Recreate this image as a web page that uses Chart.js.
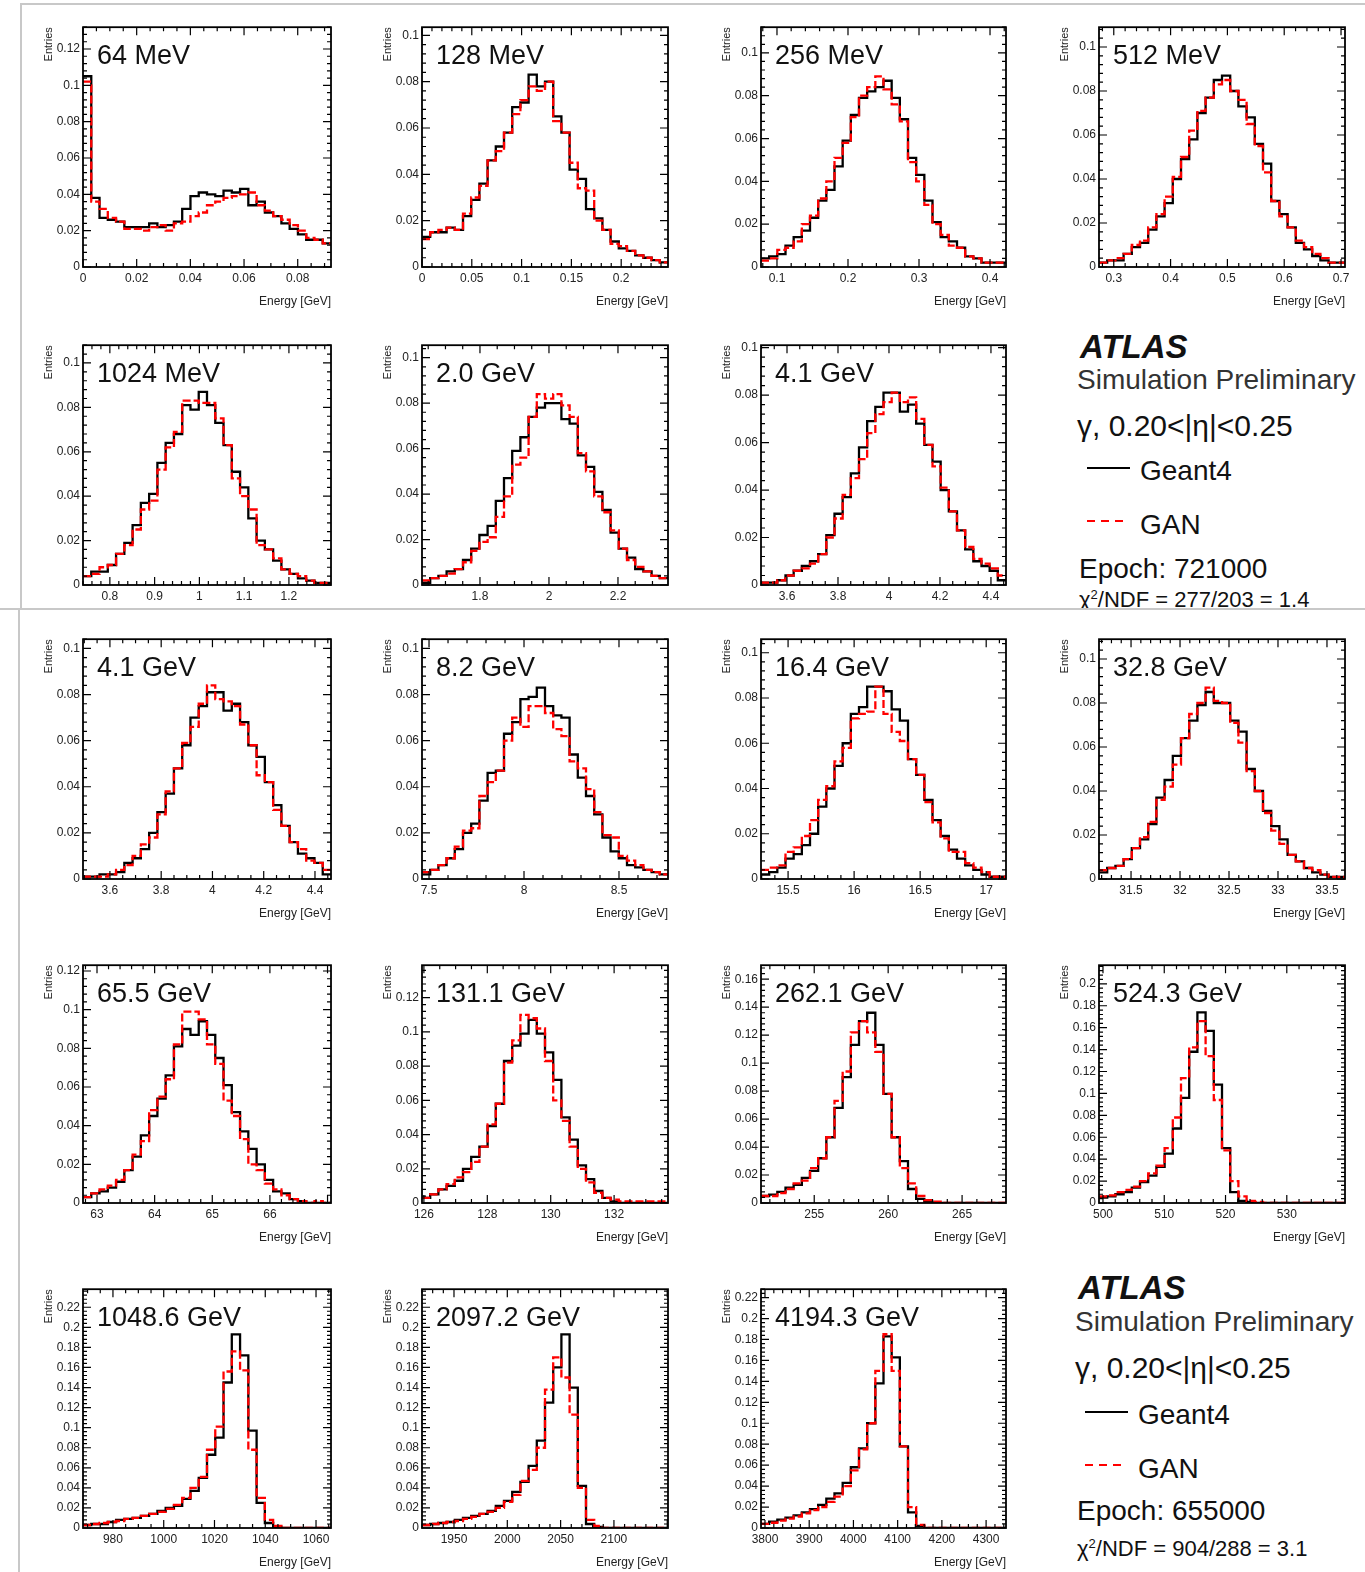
<!DOCTYPE html>
<html>
<head>
<meta charset="utf-8">
<script src="https://cdn.jsdelivr.net/npm/chart.js@4.4.1/dist/chart.umd.min.js"></script>
<style>
html,body{margin:0;padding:0;background:#fff;}
body{width:1365px;height:1572px;position:relative;overflow:hidden;font-family:"Liberation Sans",Arial,Helvetica,sans-serif;}
.half{position:absolute;left:0;width:1365px;overflow:hidden;}
.half canvas{position:absolute;}
.t{position:absolute;white-space:nowrap;line-height:1;color:#111;}
.gl{position:absolute;background:#c8c8c8;}
.ln{position:absolute;height:2px;background:#000;}
.dl{position:absolute;height:2px;background:repeating-linear-gradient(90deg,#f00 0 8px,transparent 8px 14px);}
</style>
</head>
<body>
<div class="gl" style="left:20px;top:3px;width:1345px;height:2px"></div>
<div class="gl" style="left:20px;top:3px;width:2px;height:606px"></div>
<div class="gl" style="left:0;top:608px;width:1365px;height:2px"></div>
<div class="gl" style="left:18px;top:610px;width:2px;height:962px"></div>

<div id="topHalf" class="half" style="top:0;height:608px">
  <div class="t" style="left:1080px;top:330px;font-size:33px;font-weight:bold;font-style:italic;">ATLAS</div>
  <div class="t" style="left:1077px;top:366px;font-size:28px;color:#333;">Simulation Preliminary</div>
  <div class="t" style="left:1077px;top:411px;font-size:30px;">γ, 0.20&lt;|η|&lt;0.25</div>
  <div class="ln" style="left:1087px;top:467px;width:43px"></div>
  <div class="t" style="left:1140px;top:457px;font-size:28px;">Geant4</div>
  <div class="dl" style="left:1087px;top:520px;width:40px"></div>
  <div class="t" style="left:1140px;top:511px;font-size:28px;">GAN</div>
  <div class="t" style="left:1079px;top:555px;font-size:28px;">Epoch: 721000</div>
  <div class="t" style="left:1079px;top:588px;font-size:22px;">χ<sup style="font-size:13px">2</sup>/NDF = 277/203 = 1.4</div>
</div>
<div id="botHalf" class="half" style="top:610px;height:962px">
  <div class="t" style="left:1078px;top:661px;font-size:33px;font-weight:bold;font-style:italic;">ATLAS</div>
  <div class="t" style="left:1075px;top:698px;font-size:28px;color:#333;">Simulation Preliminary</div>
  <div class="t" style="left:1075px;top:743px;font-size:30px;">γ, 0.20&lt;|η|&lt;0.25</div>
  <div class="ln" style="left:1085px;top:801px;width:43px"></div>
  <div class="t" style="left:1138px;top:791px;font-size:28px;">Geant4</div>
  <div class="dl" style="left:1085px;top:854px;width:40px"></div>
  <div class="t" style="left:1138px;top:845px;font-size:28px;">GAN</div>
  <div class="t" style="left:1077px;top:887px;font-size:28px;">Epoch: 655000</div>
  <div class="t" style="left:1077px;top:927px;font-size:22px;">χ<sup style="font-size:13px">2</sup>/NDF = 904/288 = 3.1</div>
</div>

<script>
// ---------------- DATA ----------------
const panelLabels = ['64 MeV','128 MeV','256 MeV','512 MeV','1024 MeV','2.0 GeV','4.1 GeV',
  '4.1 GeV','8.2 GeV','16.4 GeV','32.8 GeV','65.5 GeV','131.1 GeV','262.1 GeV','524.3 GeV',
  '1048.6 GeV','2097.2 GeV','4194.3 GeV'];
const xMin = [0, 0, 0.0775, 0.274, 0.74, 1.632, 3.498, 3.495, 7.463, 15.295, 31.173, 62.757, 125.94, 251.4, 499.35, 968.2, 1920.0, 3791];
const xMax = [0.0924, 0.247, 0.4225, 0.707, 1.294, 2.345, 4.459, 4.4625, 8.758, 17.15, 33.684, 67.06, 133.7, 267.97, 539.5, 1065.9, 2150.7, 4345];
const yMax = [0.132, 0.1035, 0.112, 0.109, 0.108, 0.1055, 0.101, 0.104, 0.104, 0.106, 0.109, 0.123, 0.139, 0.170, 0.217, 0.238, 0.238, 0.228];
const xTickVals = [
  [0, 0.02, 0.04, 0.06, 0.08],
  [0, 0.05, 0.1, 0.15, 0.2],
  [0.1, 0.2, 0.3, 0.4],
  [0.3, 0.4, 0.5, 0.6, 0.7],
  [0.8, 0.9, 1, 1.1, 1.2],
  [1.8, 2, 2.2],
  [3.6, 3.8, 4, 4.2, 4.4],
  [3.6, 3.8, 4, 4.2, 4.4],
  [7.5, 8, 8.5],
  [15.5, 16, 16.5, 17],
  [31.5, 32, 32.5, 33, 33.5],
  [63, 64, 65, 66],
  [126, 128, 130, 132],
  [255, 260, 265],
  [500, 510, 520, 530],
  [980, 1000, 1020, 1040, 1060],
  [1950, 2000, 2050, 2100],
  [3800, 3900, 4000, 4100, 4200, 4300]
];

const g4_64MeV  = [0.105,0.038,0.027,0.026,0.025,0.022,0.022,0.022,0.024,0.022,0.023,0.025,0.032,0.039,0.041,0.040,0.039,0.042,0.041,0.043,0.034,0.036,0.030,0.028,0.024,0.021,0.018,0.015,0.015,0.013];
const gan_64MeV = [0.102,0.036,0.032,0.027,0.025,0.021,0.021,0.020,0.022,0.023,0.020,0.024,0.025,0.028,0.030,0.034,0.036,0.038,0.039,0.040,0.041,0.034,0.031,0.028,0.026,0.023,0.020,0.016,0.015,0.013];
const g4_128MeV  = [0.013,0.015,0.015,0.017,0.016,0.022,0.029,0.036,0.046,0.052,0.058,0.069,0.071,0.083,0.078,0.080,0.065,0.058,0.042,0.038,0.025,0.021,0.016,0.011,0.008,0.007,0.005,0.004,0.003,0.002];
const gan_128MeV = [0.012,0.015,0.016,0.017,0.016,0.023,0.030,0.035,0.046,0.050,0.058,0.066,0.072,0.078,0.076,0.080,0.063,0.058,0.045,0.034,0.033,0.020,0.016,0.010,0.009,0.007,0.005,0.004,0.003,0.002];
const g4_256MeV  = [0.004,0.005,0.006,0.010,0.014,0.017,0.023,0.031,0.036,0.047,0.059,0.071,0.079,0.082,0.084,0.087,0.079,0.069,0.051,0.043,0.031,0.021,0.014,0.012,0.009,0.005,0.004,0.002,0.002,0.002];
const gan_256MeV = [0.003,0.004,0.008,0.009,0.012,0.020,0.024,0.032,0.040,0.051,0.058,0.070,0.080,0.084,0.089,0.083,0.076,0.068,0.049,0.040,0.029,0.020,0.015,0.010,0.009,0.005,0.004,0.002,0.002,0.002];
const g4_512MeV  = [0.002,0.003,0.003,0.006,0.009,0.011,0.017,0.023,0.029,0.040,0.049,0.058,0.070,0.077,0.085,0.087,0.080,0.073,0.068,0.056,0.047,0.030,0.024,0.018,0.011,0.008,0.005,0.003,0.002,0.002];
const gan_512MeV = [0.002,0.003,0.004,0.006,0.010,0.012,0.018,0.024,0.032,0.041,0.050,0.062,0.071,0.077,0.083,0.085,0.080,0.076,0.065,0.055,0.043,0.030,0.023,0.018,0.012,0.009,0.006,0.004,0.002,0.002];
const g4_1024MeV  = [0.004,0.006,0.006,0.009,0.014,0.019,0.027,0.037,0.041,0.055,0.064,0.068,0.081,0.079,0.087,0.081,0.073,0.063,0.051,0.044,0.030,0.020,0.016,0.011,0.007,0.005,0.003,0.002,0.001,0.001];
const gan_1024MeV = [0.004,0.005,0.008,0.009,0.014,0.018,0.025,0.034,0.038,0.052,0.062,0.069,0.083,0.083,0.082,0.082,0.075,0.063,0.048,0.040,0.034,0.018,0.016,0.012,0.007,0.005,0.004,0.002,0.001,0.001];
const g4_2GeV  = [0.001,0.003,0.004,0.006,0.007,0.011,0.016,0.022,0.026,0.037,0.047,0.059,0.065,0.074,0.078,0.080,0.080,0.073,0.071,0.057,0.052,0.041,0.033,0.023,0.016,0.012,0.007,0.006,0.004,0.003];
const gan_2GeV = [0.002,0.003,0.004,0.005,0.007,0.010,0.015,0.019,0.021,0.030,0.039,0.053,0.056,0.074,0.084,0.082,0.084,0.079,0.074,0.058,0.050,0.039,0.032,0.024,0.016,0.011,0.008,0.006,0.004,0.003];
const g4_4GeVa  = [0.001,0.001,0.002,0.004,0.006,0.008,0.010,0.013,0.021,0.030,0.037,0.047,0.058,0.069,0.075,0.081,0.081,0.073,0.076,0.068,0.059,0.052,0.040,0.031,0.023,0.015,0.010,0.008,0.006,0.002];
const gan_4GeVa = [0.001,0.001,0.002,0.004,0.006,0.007,0.009,0.013,0.020,0.028,0.038,0.045,0.053,0.064,0.072,0.077,0.081,0.077,0.079,0.070,0.059,0.050,0.041,0.031,0.023,0.016,0.011,0.009,0.007,0.004];
const g4_4GeVb  = [0.001,0.001,0.002,0.002,0.003,0.007,0.009,0.013,0.020,0.029,0.037,0.048,0.058,0.070,0.075,0.081,0.081,0.073,0.076,0.068,0.058,0.053,0.042,0.032,0.023,0.016,0.011,0.009,0.007,0.002];
const gan_4GeVb = [0.001,0.001,0.001,0.002,0.004,0.006,0.010,0.015,0.018,0.028,0.038,0.048,0.059,0.066,0.076,0.084,0.078,0.077,0.075,0.067,0.058,0.045,0.042,0.030,0.023,0.016,0.013,0.008,0.007,0.004];
const g4_8GeV  = [0.002,0.004,0.006,0.009,0.013,0.020,0.024,0.034,0.046,0.047,0.063,0.068,0.078,0.079,0.083,0.075,0.071,0.070,0.054,0.044,0.036,0.028,0.018,0.012,0.009,0.006,0.005,0.004,0.003,0.002];
const gan_8GeV = [0.003,0.004,0.006,0.009,0.014,0.021,0.022,0.036,0.042,0.047,0.060,0.070,0.066,0.075,0.075,0.072,0.065,0.062,0.051,0.048,0.039,0.029,0.019,0.018,0.010,0.008,0.006,0.004,0.003,0.002];
const g4_16GeV  = [0.002,0.003,0.005,0.009,0.011,0.015,0.020,0.032,0.040,0.050,0.060,0.073,0.076,0.085,0.085,0.083,0.075,0.070,0.053,0.046,0.035,0.026,0.019,0.013,0.009,0.006,0.004,0.002,0.001,0.001];
const gan_16GeV = [0.004,0.005,0.006,0.012,0.014,0.019,0.026,0.035,0.041,0.052,0.058,0.071,0.073,0.074,0.085,0.073,0.065,0.061,0.053,0.046,0.034,0.025,0.018,0.012,0.012,0.007,0.005,0.003,0.001,0.001];
const g4_32GeV  = [0.003,0.005,0.006,0.009,0.014,0.018,0.025,0.037,0.045,0.056,0.064,0.072,0.079,0.085,0.080,0.080,0.072,0.067,0.050,0.040,0.031,0.024,0.018,0.011,0.008,0.005,0.003,0.002,0.001,0.001];
const gan_32GeV = [0.004,0.005,0.006,0.009,0.014,0.019,0.026,0.036,0.042,0.052,0.064,0.075,0.080,0.087,0.081,0.080,0.071,0.062,0.049,0.040,0.030,0.022,0.016,0.011,0.008,0.005,0.004,0.002,0.001,0.001];
const g4_65GeV  = [0.003,0.005,0.006,0.008,0.011,0.017,0.024,0.035,0.045,0.054,0.066,0.081,0.090,0.087,0.094,0.087,0.075,0.061,0.047,0.037,0.028,0.020,0.012,0.006,0.005,0.002,0.001,0,0,0];
const gan_65GeV = [0.003,0.005,0.007,0.009,0.012,0.017,0.025,0.032,0.048,0.055,0.064,0.082,0.099,0.099,0.095,0.082,0.072,0.053,0.045,0.033,0.020,0.017,0.010,0.007,0.004,0.002,0.001,0,0.001,0];
const g4_131GeV  = [0.003,0.005,0.008,0.010,0.013,0.020,0.027,0.033,0.045,0.058,0.083,0.092,0.099,0.107,0.099,0.088,0.072,0.050,0.037,0.022,0.014,0.007,0.003,0.001,0,0,0,0,0,0];
const gan_131GeV = [0.003,0.005,0.008,0.011,0.015,0.018,0.024,0.033,0.046,0.058,0.082,0.095,0.110,0.108,0.102,0.083,0.060,0.048,0.033,0.020,0.012,0.006,0.003,0.002,0.001,0.001,0.001,0.001,0.001,0.001];
const g4_262GeV  = [0.005,0.006,0.008,0.011,0.013,0.018,0.023,0.032,0.047,0.068,0.090,0.113,0.130,0.136,0.113,0.078,0.047,0.030,0.010,0.003,0.001,0,0,0,0,0,0,0,0,0];
const gan_262GeV = [0.005,0.005,0.007,0.010,0.014,0.016,0.025,0.032,0.047,0.073,0.094,0.122,0.130,0.122,0.108,0.078,0.047,0.025,0.014,0.005,0.002,0.001,0,0,0,0,0,0,0,0];
const g4_524GeV  = [0.005,0.006,0.008,0.010,0.014,0.019,0.025,0.033,0.045,0.068,0.096,0.138,0.174,0.157,0.108,0.050,0.010,0.002,0.001,0,0,0,0,0,0,0,0,0,0,0];
const gan_524GeV = [0.006,0.007,0.010,0.012,0.015,0.020,0.027,0.034,0.050,0.078,0.114,0.142,0.166,0.134,0.094,0.048,0.020,0.006,0.002,0.001,0,0,0,0,0,0,0,0,0,0];
const g4_1048GeV  = [0.003,0.004,0.004,0.006,0.008,0.009,0.010,0.012,0.014,0.017,0.020,0.022,0.029,0.037,0.050,0.073,0.090,0.145,0.193,0.172,0.097,0.025,0.005,0.001,0,0,0,0,0,0];
const gan_1048GeV = [0.003,0.004,0.005,0.006,0.007,0.009,0.010,0.012,0.014,0.016,0.019,0.023,0.030,0.040,0.051,0.078,0.101,0.156,0.176,0.157,0.078,0.030,0.008,0.002,0,0,0,0,0,0];
const g4_2097GeV  = [0.003,0.004,0.005,0.006,0.008,0.010,0.012,0.014,0.017,0.022,0.027,0.036,0.046,0.062,0.087,0.125,0.160,0.193,0.140,0.042,0.004,0.001,0,0,0,0,0,0,0,0];
const gan_2097GeV = [0.003,0.004,0.005,0.006,0.007,0.009,0.011,0.014,0.016,0.020,0.026,0.033,0.047,0.058,0.080,0.138,0.170,0.150,0.113,0.040,0.008,0.002,0,0,0,0,0,0,0,0];
const g4_4194GeV  = [0.004,0.006,0.008,0.010,0.012,0.015,0.018,0.022,0.028,0.033,0.043,0.058,0.076,0.100,0.138,0.183,0.163,0.078,0.015,0.002,0,0,0,0,0,0,0,0,0,0];
const gan_4194GeV = [0.004,0.005,0.007,0.009,0.011,0.014,0.017,0.020,0.025,0.030,0.040,0.055,0.075,0.100,0.150,0.185,0.150,0.078,0.020,0.003,0,0,0,0,0,0,0,0,0,0];

const g4Series  = [g4_64MeV, g4_128MeV, g4_256MeV, g4_512MeV, g4_1024MeV, g4_2GeV, g4_4GeVa, g4_4GeVb, g4_8GeV, g4_16GeV, g4_32GeV, g4_65GeV, g4_131GeV, g4_262GeV, g4_524GeV, g4_1048GeV, g4_2097GeV, g4_4194GeV];
const ganSeries = [gan_64MeV, gan_128MeV, gan_256MeV, gan_512MeV, gan_1024MeV, gan_2GeV, gan_4GeVa, gan_4GeVb, gan_8GeV, gan_16GeV, gan_32GeV, gan_65GeV, gan_131GeV, gan_262GeV, gan_524GeV, gan_1048GeV, gan_2097GeV, gan_4194GeV];

// ---------------- LAYOUT ----------------
const panelRow = [0,0,0,0,1,1,1,2,2,2,2,3,3,3,3,4,4,4];
const panelCol = [0,1,2,3,0,1,2,0,1,2,3,0,1,2,3,0,1,2];
const colLeft  = [83, 422, 761, 1099];
const colWidth = [248, 246, 245, 246];
const rowTop    = [25, 343, 637, 963, 1287];
const rowHeight = [242, 242, 242, 240, 241];
const YW = 45, PT = 8, PR = 20, XH = 44;
const FONT = '"Liberation Sans", Arial, Helvetica, sans-serif';

function fmt(v) { return String(parseFloat(Number(v).toFixed(6))); }

function histPoints(vals, lo, hi) {
  const w = (hi - lo) / vals.length;
  const pts = vals.map((v, i) => ({x: lo + i * w, y: v}));
  pts.push({x: hi, y: vals[vals.length - 1]});
  return pts;
}

function drawScaleTicks(ctx, a, scale, horizontal, majors, sub) {
  if (majors.length < 2) return;
  const step = majors[1] - majors[0];
  const ms = step / sub;
  const start = majors[0] - Math.floor((majors[0] - scale.min) / ms + 1e-9) * ms;
  ctx.beginPath();
  for (let k = 0; ; k++) {
    const v = start + k * ms;
    if (v > scale.max + 1e-9 * Math.abs(scale.max || 1)) break;
    const r = (v - majors[0]) / step;
    const isMajor = Math.abs(r - Math.round(r)) < 1e-6;
    const len = isMajor ? 8 : 4;
    const p = scale.getPixelForValue(v);
    if (horizontal) {
      ctx.moveTo(p, a.bottom); ctx.lineTo(p, a.bottom - len);
      ctx.moveTo(p, a.top); ctx.lineTo(p, a.top + len);
    } else {
      ctx.moveTo(a.left, p); ctx.lineTo(a.left + len, p);
      ctx.moveTo(a.right, p); ctx.lineTo(a.right - len, p);
    }
  }
  ctx.stroke();
}

const rootFrame = {
  id: 'rootFrame',
  afterDraw(chart, args, opts) {
    const {ctx, chartArea: a} = chart;
    const x = chart.scales.x, y = chart.scales.y;
    ctx.save();
    ctx.strokeStyle = '#000';
    ctx.lineWidth = 1.2;
    const xm = x.ticks.map(t => t.value);
    const xs = xm.length > 1 ? (xm[1] - xm[0]) : 1;
    const lead = Math.round(xs / Math.pow(10, Math.floor(Math.log10(xs) + 1e-9)));
    drawScaleTicks(ctx, a, x, true, xm, lead === 2 ? 4 : 5);
    drawScaleTicks(ctx, a, y, false, y.ticks.map(t => t.value), 5);
    ctx.lineWidth = 1.8;
    ctx.strokeRect(a.left, a.top, a.right - a.left, a.bottom - a.top);
    ctx.fillStyle = '#111';
    ctx.font = '27px ' + FONT;
    ctx.textBaseline = 'alphabetic';
    ctx.textAlign = 'left';
    ctx.fillText(opts.title, a.left + 14, a.top + 37);
    ctx.restore();
  }
};

const topHalf = document.getElementById('topHalf');
const botHalf = document.getElementById('botHalf');

panelLabels.forEach((lab, i) => {
  const r = panelRow[i], c = panelCol[i];
  const host = r < 2 ? topHalf : botHalf;
  const offY = r < 2 ? 0 : 610;
  const L = colLeft[c], W = colWidth[c], T = rowTop[r], H = rowHeight[r];
  const cv = document.createElement('canvas');
  cv.width = YW + W + PR; cv.height = PT + H + XH;
  cv.style.left = (L - YW) + 'px';
  cv.style.top = (T - PT - offY) + 'px';
  cv.style.width = cv.width + 'px';
  cv.style.height = cv.height + 'px';
  host.appendChild(cv);

  new Chart(cv, {
    type: 'line',
    data: {
      datasets: [
        {label: 'GAN', data: histPoints(ganSeries[i], xMin[i], xMax[i]), stepped: 'before',
         borderColor: '#ff0000', borderWidth: 2.3, borderDash: [8, 3], pointRadius: 0, fill: false},
        {label: 'Geant4', data: histPoints(g4Series[i], xMin[i], xMax[i]), stepped: 'before',
         borderColor: '#000000', borderWidth: 2.3, pointRadius: 0, fill: false}
      ]
    },
    options: {
      responsive: false, animation: false, devicePixelRatio: 1,
      layout: {padding: {left: 0, right: PR, top: PT, bottom: 0}},
      plugins: {legend: {display: false}, tooltip: {enabled: false}, rootFrame: {title: lab}},
      elements: {point: {radius: 0}, line: {tension: 0}},
      scales: {
        x: {
          type: 'linear', min: xMin[i], max: xMax[i],
          grid: {display: false, drawTicks: false}, border: {display: false},
          afterBuildTicks: s => { s.ticks = xTickVals[i].map(v => ({value: v})); },
          afterFit: s => { s.height = XH; },
          ticks: {autoSkip: false, maxRotation: 0, minRotation: 0, padding: 4, color: '#222',
                  font: {family: FONT, size: 12}, callback: v => fmt(v)},
          title: {display: r !== 1, text: 'Energy [GeV]', align: 'end', color: '#222',
                  font: {family: FONT, size: 12}, padding: {top: 0, bottom: 2}}
        },
        y: {
          type: 'linear', min: 0, max: yMax[i],
          grid: {display: false, drawTicks: false}, border: {display: false},
          afterFit: s => { s.width = YW; },
          ticks: {stepSize: 0.02, includeBounds: false, autoSkip: false, padding: 3, color: '#222',
                  font: {family: FONT, size: 12}, callback: v => fmt(v)},
          title: {display: true, text: 'Entries', align: 'end', color: '#222',
                  font: {family: FONT, size: 11}, padding: {top: 4, bottom: 0}}
        }
      }
    },
    plugins: [rootFrame]
  });
});
</script>
</body>
</html>
